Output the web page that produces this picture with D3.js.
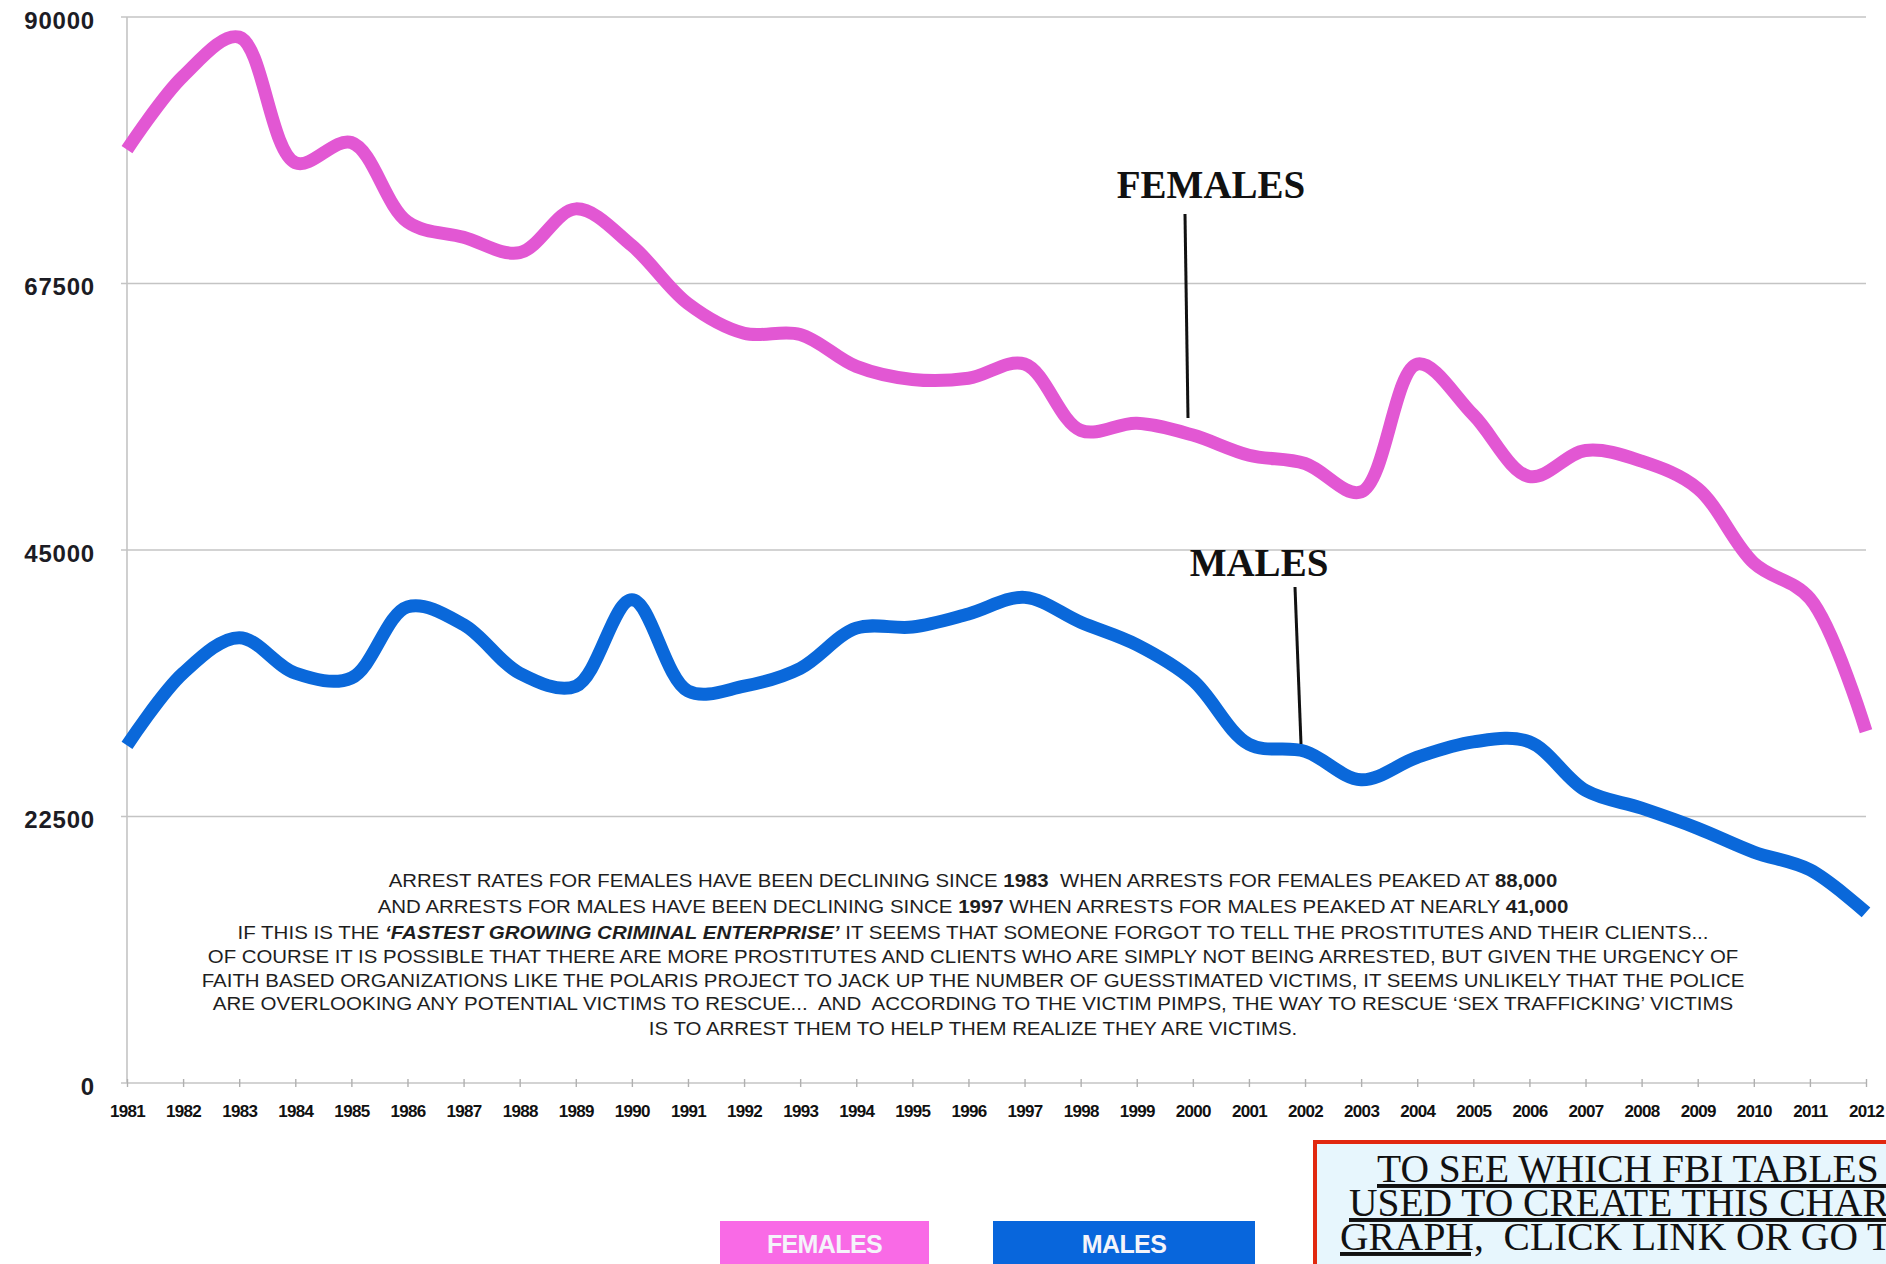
<!DOCTYPE html>
<html>
<head>
<meta charset="utf-8">
<script src="https://cdn.jsdelivr.net/npm/d3@7"></script>
<style>
body { margin: 0; background: #fff; overflow: hidden; }
svg { display: block; }
</style>
</head>
<body>
<script>
// FBI arrests for prostitution by sex, 1981-2012

const years = [1981, 1982, 1983, 1984, 1985, 1986, 1987, 1988, 1989, 1990, 1991,
	1992, 1993, 1994, 1995, 1996, 1997, 1998, 1999, 2000, 2001, 2002, 2003,
	2004, 2005, 2006, 2007, 2008, 2009, 2010, 2011, 2012];

const females = [78800, 85000, 88300, 77700, 79400, 72700, 71400, 70100, 73800, 70700, 65800,
	63300, 63200, 60500, 59400, 59500, 60700, 55100, 55700, 54700, 53000, 52300, 49900,
	60700, 56400, 51200, 53400, 52500, 50200, 43900, 40900, 29700];

const males = [28500, 34600, 37600, 34600, 34200, 40200, 38700, 34600, 33500, 40800, 33100,
	33500, 35000, 38400, 38500, 39600, 41000, 38900, 37000, 34000, 28600, 28000, 25600,
	27500, 28800, 28800, 24700, 23200, 21500, 19500, 18000, 14400];

const yTicks = [0, 22500, 45000, 67500, 90000];
const seriesNames = ["FEMALES", "MALES"];
const lineColors = ["#e257d3", "#0a68da"];
const legendColors = ["#f96ae6", "#0866dc"];

// text segments: "" plain, "b" bold, "bi" bold italic
const noteLines = [
	[["ARREST RATES FOR FEMALES HAVE BEEN DECLINING SINCE ", ""], ["1983", "b"], ["  WHEN ARRESTS FOR FEMALES PEAKED AT ", ""], ["88,000", "b"]],
	[["AND ARRESTS FOR MALES HAVE BEEN DECLINING SINCE ", ""], ["1997", "b"], [" WHEN ARRESTS FOR MALES PEAKED AT NEARLY ", ""], ["41,000", "b"]],
	[["IF THIS IS THE ", ""], ["\u2018FASTEST GROWING CRIMINAL ENTERPRISE\u2019", "bi"], [" IT SEEMS THAT SOMEONE FORGOT TO TELL THE PROSTITUTES AND THEIR CLIENTS...", ""]],
	[["OF COURSE IT IS POSSIBLE THAT THERE ARE MORE PROSTITUTES AND CLIENTS WHO ARE SIMPLY NOT BEING ARRESTED, BUT GIVEN THE URGENCY OF", ""]],
	[["FAITH BASED ORGANIZATIONS LIKE THE POLARIS PROJECT TO JACK UP THE NUMBER OF GUESSTIMATED VICTIMS, IT SEEMS UNLIKELY THAT THE POLICE", ""]],
	[["ARE OVERLOOKING ANY POTENTIAL VICTIMS TO RESCUE...  AND  ACCORDING TO THE VICTIM PIMPS, THE WAY TO RESCUE \u2018SEX TRAFFICKING\u2019 VICTIMS", ""]],
	[["IS TO ARREST THEM TO HELP THEM REALIZE THEY ARE VICTIMS.", ""]]
];
const noteWidths = [1169, 1191, 1472, 1531, 1543, 1522, 649];

const linkLines = [
	[["TO SEE WHICH FBI TABLES WERE", true]],
	[["USED TO CREATE THIS CHART OR", true]],
	[["GRAPH,", true], ["  CLICK LINK OR GO TO", false]]
];

function draw() {
	const width = 1886;
	const height = 1264;
	const left = 127, right = 1866, top = 17, bottom = 1083;

	const svg = d3.select("body")
		.append("svg")
		.attr("width", width)
		.attr("height", height);

	const x = d3.scalePoint().domain(years).range([left, right]);
	const y = d3.scaleLinear().domain([0, 90000]).range([bottom, top]);

	// gridlines
	svg.append("g")
		.selectAll("line")
		.data(yTicks)
		.enter()
		.append("line")
		.attr("x1", left - 6)
		.attr("x2", right)
		.attr("y1", d => y(d))
		.attr("y2", d => y(d))
		.attr("stroke", "#c4c4c4")
		.attr("stroke-width", 1.6);

	// y axis labels
	const yAxis = svg.append("g")
		.attr("transform", "translate(" + left + ",0)")
		.call(d3.axisLeft(y).tickValues(yTicks).tickSize(0).tickPadding(32).tickFormat(d3.format("d")));
	yAxis.select(".domain")
		.attr("stroke", "#c4c4c4")
		.attr("stroke-width", 1.6)
		.attr("d", "M0," + top + "V" + bottom);
	yAxis.selectAll("text")
		.attr("font-family", "Liberation Sans, Arial, sans-serif")
		.attr("font-size", 24)
		.attr("font-weight", "bold")
		.attr("letter-spacing", 0.8)
		.attr("fill", "#1c1c24")
		.attr("dy", "0.85em")
		.attr("y", -9);

	// x axis
	const xAxis = svg.append("g")
		.attr("transform", "translate(0," + bottom + ")")
		.call(d3.axisBottom(x).tickSize(4).tickPadding(18));
	xAxis.select(".domain").remove();
	xAxis.selectAll(".tick line")
		.attr("y1", -4)
		.attr("stroke", "#b0b0b0")
		.attr("stroke-width", 1.4);
	xAxis.selectAll("text")
		.attr("font-family", "Liberation Sans, Arial, sans-serif")
		.attr("font-size", 17)
		.attr("font-weight", "bold")
		.attr("letter-spacing", -0.7)
		.attr("fill", "#111");

	// lines
	const line = d3.line()
		.x((d, i) => x(years[i]))
		.y(d => y(d))
		.curve(d3.curveCatmullRom.alpha(0.5));

	svg.append("g")
		.selectAll("path")
		.data([females, males])
		.enter()
		.append("path")
		.attr("d", line)
		.attr("fill", "none")
		.attr("stroke", (d, i) => lineColors[i])
		.attr("stroke-width", 13)
		.attr("stroke-linejoin", "round");

	// series call-outs
	const callouts = [
		{ name: seriesNames[0], tx: 1211, ty: 198, x1: 1185, y1: 214, x2: 1188, y2: 418 },
		{ name: seriesNames[1], tx: 1259, ty: 576, x1: 1295, y1: 587, x2: 1301, y2: 744 }
	];
	const co = svg.append("g");
	co.selectAll("text")
		.data(callouts)
		.enter()
		.append("text")
		.attr("x", d => d.tx)
		.attr("y", d => d.ty)
		.attr("text-anchor", "middle")
		.attr("font-family", "Liberation Serif, Times New Roman, serif")
		.attr("font-weight", "bold")
		.attr("font-size", 39)
		.attr("fill", "#111")
		.text(d => d.name);
	co.selectAll("line")
		.data(callouts)
		.enter()
		.append("line")
		.attr("x1", d => d.x1)
		.attr("y1", d => d.y1)
		.attr("x2", d => d.x2)
		.attr("y2", d => d.y2)
		.attr("stroke", "#111")
		.attr("stroke-width", 3);

	// explanatory text block
	const noteY = [887, 913, 939, 963, 987, 1010, 1035];
	const notes = svg.append("g");
	noteLines.forEach(function(segs, i) {
		const t = notes.append("text")
			.attr("text-anchor", "middle")
			.attr("font-family", "Liberation Sans, Arial, sans-serif")
			.attr("font-size", 18.5)
			.attr("fill", "#1e1e1e")
			.style("white-space", "pre");
		segs.forEach(function(s) {
			t.append("tspan")
				.attr("font-weight", s[1].indexOf("b") >= 0 ? "bold" : "normal")
				.attr("font-style", s[1].indexOf("i") >= 0 ? "italic" : "normal")
				.text(s[0]);
		});
		const w = t.node().getComputedTextLength();
		t.attr("transform", "translate(973," + noteY[i] + ") scale(" + (noteWidths[i] / w) + ",1)");
	});

	// legend
	const legend = svg.append("g");
	const legendBoxes = [{ x: 720, w: 209 }, { x: 993, w: 262 }];
	legend.selectAll("rect")
		.data(seriesNames)
		.enter()
		.append("rect")
		.attr("x", (d, i) => legendBoxes[i].x)
		.attr("y", 1221)
		.attr("width", (d, i) => legendBoxes[i].w)
		.attr("height", 60)
		.attr("fill", (d, i) => legendColors[i]);
	legend.selectAll("text")
		.data(seriesNames)
		.enter()
		.append("text")
		.attr("x", (d, i) => legendBoxes[i].x + legendBoxes[i].w / 2)
		.attr("y", 1253)
		.attr("text-anchor", "middle")
		.attr("font-family", "Liberation Sans, Arial, sans-serif")
		.attr("font-weight", "bold")
		.attr("font-size", 25)
		.attr("letter-spacing", -0.6)
		.attr("fill", "#f4f4fa")
		.text(d => d);

	// link box
	const link = svg.append("g");
	link.append("rect")
		.attr("x", 1315)
		.attr("y", 1142)
		.attr("width", 700)
		.attr("height", 200)
		.attr("fill", "#e7f6fd")
		.attr("stroke", "#e1280f")
		.attr("stroke-width", 4);
	const linkX = [1377, 1349, 1340];
	const linkY = [1182, 1216, 1250];
	linkLines.forEach(function(segs, i) {
		const t = link.append("text")
			.attr("x", linkX[i])
			.attr("y", linkY[i])
			.attr("font-family", "Liberation Serif, Times New Roman, serif")
			.attr("font-size", 39.5)
			.attr("fill", "#111")
			.style("white-space", "pre");
		segs.forEach(function(s) {
			t.append("tspan")
				.style("text-decoration", s[1] ? "underline" : "none")
				.text(s[0]);
		});
	});
}
window.onload = draw;
</script>
</body>
</html>
